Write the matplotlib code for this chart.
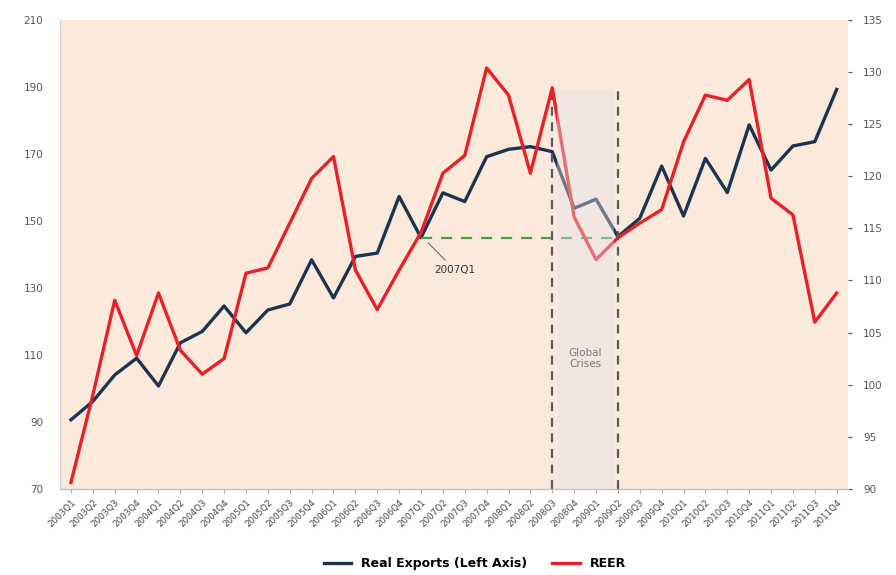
import numpy as np
import matplotlib
matplotlib.use("Agg")
import matplotlib.pyplot as plt

years = range(2003, 2012)
quarters = [f"{y}Q{q}" for y in years for q in range(1, 5)]

real_exports = [90.6, 96.1, 104.0, 109.0, 100.7, 113.6, 117.0, 124.6, 116.6, 123.4,
                125.2, 138.4, 127.0, 139.4, 140.4, 157.3, 145.0, 158.4, 155.8, 169.2,
                171.4, 172.2, 170.7, 153.8, 156.5, 145.3, 150.8, 166.4, 151.5, 168.7,
                158.5, 178.7, 165.2, 172.4, 173.7, 189.3]
reer = [90.6, 99.0, 108.1, 102.8, 108.8, 103.3, 101.0, 102.5, 110.7, 111.2,
        115.5, 119.8, 121.9, 111.0, 107.2, 111.0, 114.6, 120.3, 122.0, 130.4,
        127.8, 120.3, 128.5, 116.1, 112.0, 114.1, 115.5, 116.8, 123.3, 127.8,
        127.3, 129.3, 117.9, 116.3, 106.0, 108.8]

crisis_start = "2008Q3"
crisis_end = "2009Q2"
ref_quarter = "2007Q1"

x = np.arange(len(quarters))
i0 = quarters.index(crisis_start)
i1 = quarters.index(crisis_end)
iref = quarters.index(ref_quarter)

fig = plt.figure(figsize=(8.96, 5.75), dpi=100)
ax = fig.add_axes([0.067, 0.150, 0.879, 0.815])
ax.set_facecolor("#fbe9dc")
ax2 = ax.twinx()

ax.plot(x, real_exports, color="#1c3450", lw=2.4, zorder=3, label="Real Exports (Left Axis)")
ax2.plot(x, reer, color="#e8202a", lw=2.4, zorder=3, label="REER")

# crisis shading, drawn over the lines like the original
ax2.axvspan(i0 + 0.2, i1 - 0.2, ymin=0, ymax=(189 - 70) / 140,
            color="#e2e2ea", alpha=0.4, zorder=5, lw=0)
for xi in (i0, i1):
    ax.plot([xi, xi], [70, 190], ls=(0, (4, 3)), color="#555b66", lw=1.6, zorder=6)
ax2.text((i0 + i1) / 2, 102.5, "Global\nCrises", ha="center", va="center",
         fontsize=7.5, color="#7a7a7a", zorder=7)

# 2007Q1 reference line
ax.plot([iref, i1], [real_exports[iref], real_exports[iref]], ls=(0, (5, 4)),
        color="#46a046", lw=1.6, zorder=4)
ax.annotate(ref_quarter, xy=(iref + 0.25, real_exports[iref] - 1),
            xytext=(iref + 0.6, 134.5), fontsize=7.5, color="#333333",
            arrowprops=dict(arrowstyle="-", color="#777777", lw=0.9))

ax.set_xlim(-0.5, len(quarters) - 0.5)
ax.set_ylim(70, 210)
ax.set_yticks(range(70, 211, 20))
ax2.set_ylim(90, 135)
ax2.set_yticks(range(90, 136, 5))
ax.set_xticks(x)
ax.set_xticklabels(quarters, rotation=45, ha="right", rotation_mode="anchor", fontsize=6.3,
                   color="#444444")
ax.tick_params(axis="y", labelsize=7.5, colors="#555555", length=0, pad=12)
ax2.tick_params(axis="y", labelsize=7.5, colors="#555555", length=3, pad=8)
ax.tick_params(axis="x", length=3, color="#aaaaaa")

for a in (ax, ax2):
    a.spines["top"].set_visible(False)
    a.spines["right"].set_visible(False)
    a.spines["left"].set_visible(False)
    a.spines["bottom"].set_color("#bbbbbb")
ax.spines["left"].set_visible(True)
ax.spines["left"].set_color("#cccccc")

h1, l1 = ax.get_legend_handles_labels()
h2, l2 = ax2.get_legend_handles_labels()
fig.legend(h1 + h2, l1 + l2, loc="center", bbox_to_anchor=(0.53, 0.02), ncol=2,
           frameon=False, prop={"weight": "bold", "size": 9}, handlelength=2.2,
           columnspacing=2.0)

fig.savefig("out.png", dpi=100)
